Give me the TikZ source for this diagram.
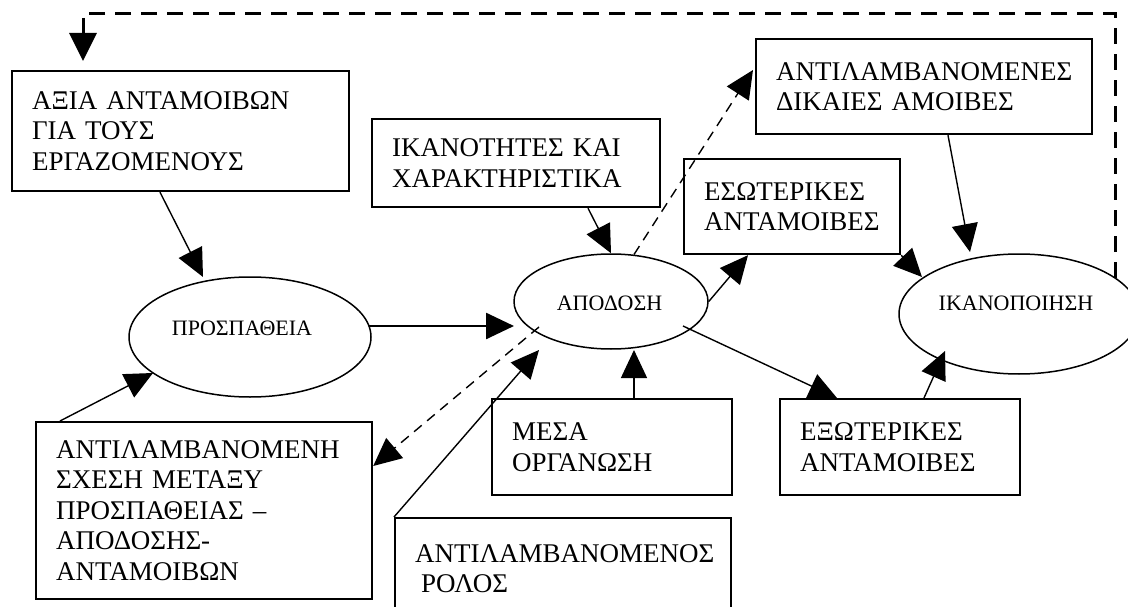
\documentclass[tikz,border=0pt]{standalone}
\usepackage{fontspec}
\setmainfont{Liberation Serif}
\usetikzlibrary{arrows.meta,calc,shapes.geometric}
\begin{document}
\begin{tikzpicture}[x=1pt,y=-1pt,
  boxnode/.style={draw, line width=2.2pt, rectangle, anchor=north west, inner xsep=20pt, inner ysep=0pt, align=left, font=\fontsize{27}{30.5}\selectfont},
  ell/.style={draw, ellipse, line width=1.5pt, inner sep=0pt},
  etext/.style={font=\fontsize{22}{25}\selectfont, anchor=base, inner sep=0pt},
  conn/.style={line width=1.4pt, -{Triangle[length=28pt,width=26pt]}},
  dconn/.style={conn, dash pattern=on 10pt off 7pt},
  fb/.style={line width=3pt, dash pattern=on 16pt off 10pt, -{Triangle[length=28pt,width=27pt]}}
]
\useasboundingbox (0,0) rectangle (1128,607);
\clip (0,0) rectangle (1128,607);

% boxes
\node[boxnode, text width=297pt, minimum height=120pt] (axia) at (11,70) {ΑΞΙΑ ΑΝΤΑΜΟΙΒΩΝ\\ΓΙΑ ΤΟΥΣ\\ΕΡΓΑΖΟΜΕΝΟΥΣ};
\node[boxnode, text width=248pt, minimum height=88pt] (ikth) at (371,118) {ΙΚΑΝΟΤΗΤΕΣ ΚΑΙ\\ΧΑΡΑΚΤΗΡΙΣΤΙΚΑ};
\node[boxnode, text width=296pt, minimum height=95pt] (antdik) at (755,38) {ΑΝΤΙΛΑΜΒΑΝΟΜΕΝΕΣ\\ΔΙΚΑΙΕΣ ΑΜΟΙΒΕΣ};
\node[boxnode, text width=176pt, minimum height=95pt] (esot) at (683,158) {ΕΣΩΤΕΡΙΚΕΣ\\ΑΝΤΑΜΟΙΒΕΣ};
\node[boxnode, text width=296pt, minimum height=177pt] (antsx) at (35,421) {ΑΝΤΙΛΑΜΒΑΝΟΜΕΝΗ\\ΣΧΕΣΗ ΜΕΤΑΞΥ\\ΠΡΟΣΠΑΘΕΙΑΣ –\\ΑΠΟΔΟΣΗΣ-\\ΑΝΤΑΜΟΙΒΩΝ};
\node[boxnode, text width=200pt, minimum height=96pt] (mesa) at (491,398) {ΜΕΣΑ\\ΟΡΓΑΝΩΣΗ};
\node[boxnode, text width=296pt, minimum height=101pt] (rolos) at (394,517) {ΑΝΤΙΛΑΜΒΑΝΟΜΕΝΟΣ\\\hspace*{6pt}ΡΟΛΟΣ};
\node[boxnode, text width=200pt, minimum height=96pt] (exot) at (779,398) {ΕΞΩΤΕΡΙΚΕΣ\\ΑΝΤΑΜΟΙΒΕΣ};

% ellipses
\node[ell, minimum width=242pt, minimum height=120pt] (pros) at (250,337) {};
\node[etext] (prostxt) at (242,335) {ΠΡΟΣΠΑΘΕΙΑ};
\node[ell, minimum width=194pt, minimum height=95pt] (apod) at (611,301.5) {};
\node[etext] (apodtxt) at (609.5,310) {ΑΠΟΔΟΣΗ};
\node[ell, minimum width=240pt, minimum height=120pt] (ikan) at (1019,314) {};
\node[etext] (ikantxt) at (1016,310) {ΙΚΑΝΟΠΟΙΗΣΗ};

% connectors
\draw[conn] ($(axia.south west)+(149,0)$) -- ($(pros.center)+(-47,-60)$);
\draw[conn, line width=2.6pt] ($(pros.center)+(119,-11)$) -- ($(apod.center)+(-97,24.5)$);
\draw[conn] ($(antsx.north west)+(25,0)$) -- ($(pros.center)+(-97,36)$);
\draw[dconn] ($(apod.center)+(23,-47)$) -- ($(antdik.north west)+(-2,32)$);
\draw[dconn] ($(apod.center)+(-72,25.5)$) -- ($(antsx.north east)+(0,45)$);
\draw[conn] ($(ikth.south west)+(217,0)$) -- (apod.north);
\draw[conn] (apod.east) -- ($(esot.south west)+(65,0)$);
\draw[conn] (esot.south east) -- ($(ikan.center)+(-97,-37)$);
\draw[conn] ($(antdik.south west)+(193,0)$) -- ($(ikan.center)+(-49,-62)$);
\draw[conn] ($(mesa.north west)+(143,0)$) -- ($(apod.center)+(23,48.5)$);
\draw[conn] (rolos.north west) -- ($(apod.center)+(-72,48.5)$);
\draw[conn] ($(apod.center)+(72,24.5)$) -- ($(exot.north west)+(58,0)$);
\draw[conn] ($(exot.north west)+(145,0)$) -- ($(ikan.center)+(-74,37)$);

% feedback loop
\coordinate (fbR) at (1115,14);
\coordinate (fbL) at (83,14);
\draw[fb] ($(ikan.center)+(96,-36)$) -- (fbR) -- (fbL) -- ($(axia.north west)+(72,-9)$);
\end{tikzpicture}
\end{document}
